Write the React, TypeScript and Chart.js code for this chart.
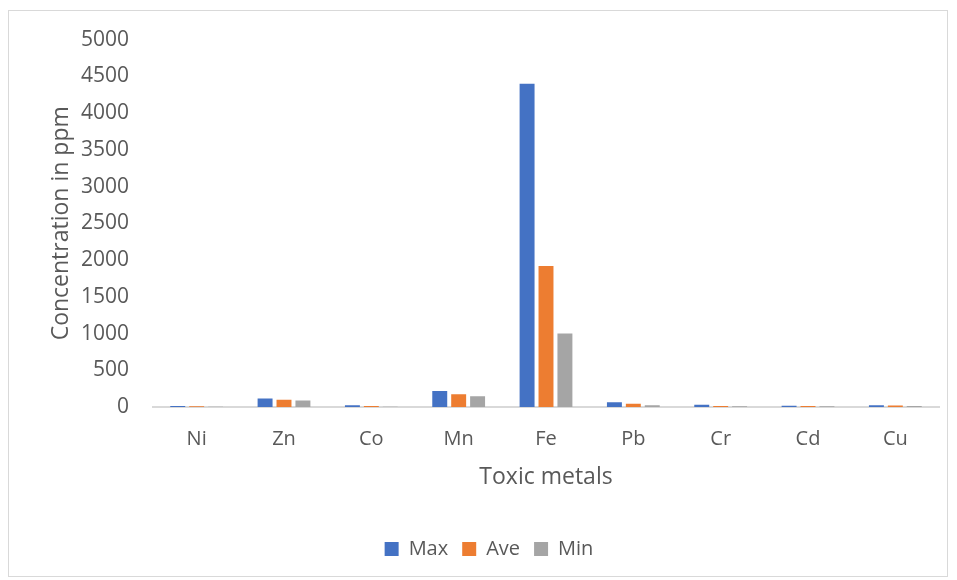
import React, { useEffect, useRef } from "react";
import { Chart, registerables } from "chart.js";

Chart.register(...registerables);

const categories = ["Ni", "Zn", "Co", "Mn", "Fe", "Pb", "Cr", "Cd", "Cu"];
const maxValues = [12, 115, 25, 218, 4400, 65, 30, 18, 25];
const aveValues = [9, 100, 12, 173, 1920, 45, 15, 12, 22];
const minValues = [5, 87, 3, 146, 1000, 25, 10, 10, 12];
const yTicks = { min: 0, max: 5000, step: 500 };

const FONT = "'Open Sans', sans-serif";
const TEXT = "#595959";

const legendShift = {
  id: "legendShift",
  afterLayout(chart: any) {
    if (chart.legend) {
      chart.legend.left += 15;
      chart.legend.right += 15;
    }
  },
};

export default function App() {
  const ref = useRef<HTMLCanvasElement | null>(null);
  useEffect(() => {
    if (!ref.current) return;
    const chart = new Chart(ref.current, {
      type: "bar",
      data: {
        labels: categories,
        datasets: [
          { label: "Max", data: maxValues, backgroundColor: "#4472C4" },
          { label: "Ave", data: aveValues, backgroundColor: "#ED7D31" },
          { label: "Min", data: minValues, backgroundColor: "#A5A5A5" },
        ],
      },
      plugins: [legendShift],
      options: {
        animation: false,
        responsive: false,
        maintainAspectRatio: false,
        layout: { padding: { left: 0, right: 8, top: 15, bottom: 7 } },
        datasets: { bar: { categoryPercentage: 0.65, barPercentage: 0.79 } },
        plugins: {
          legend: {
            position: "bottom",
            labels: {
              font: { family: FONT, size: 20 },
              color: TEXT,
              boxWidth: 14,
              boxHeight: 14,
              padding: 14,
            },
          },
          tooltip: { enabled: false },
        },
        scales: {
          x: {
            grid: { display: false },
            border: { display: true, color: "#d9d9d9", width: 2 },
            ticks: {
              font: { family: FONT, size: 20, lineHeight: 1 },
              color: TEXT,
              padding: 14,
            },
            title: {
              display: true,
              text: "Toxic metals",
              font: { family: FONT, size: 23, lineHeight: 1 },
              color: TEXT,
              padding: { top: 3, bottom: 36 },
            },
          },
          y: {
            min: yTicks.min,
            max: yTicks.max,
            grid: { display: false },
            border: { display: false },
            afterFit: (scale: any) => {
              scale.width = 144;
            },
            ticks: {
              stepSize: yTicks.step,
              font: { family: FONT, size: 21 },
              color: TEXT,
              padding: 16,
              callback: (v: any) => String(v),
            },
            title: {
              display: true,
              text: "Concentration in ppm",
              font: { family: FONT, size: 23 },
              color: TEXT,
              padding: { top: 39, bottom: 0 },
            },
          },
        },
      },
    });
    return () => chart.destroy();
  }, []);
  return (
    <div
      style={{
        marginTop: 2,
        width: 940,
        height: 567,
        border: "1px solid #d9d9d9",
        boxSizing: "border-box",
      }}
    >
      <canvas ref={ref} width={938} height={565} style={{ display: "block" }} />
    </div>
  );
}
